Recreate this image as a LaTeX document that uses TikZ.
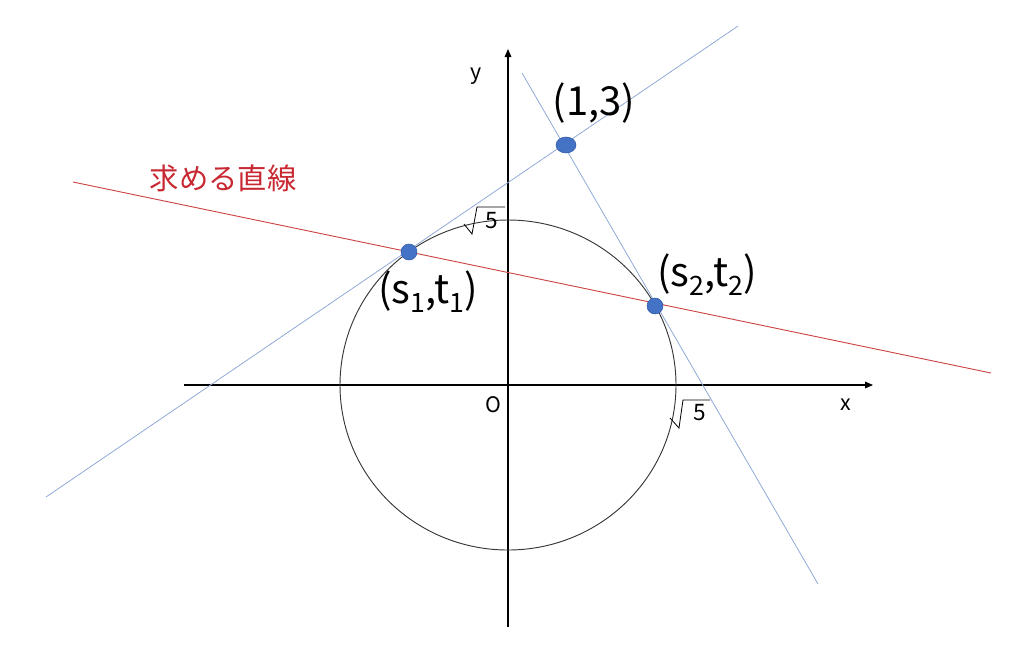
\documentclass[tikz,border=0pt]{standalone}
\usepackage{fontspec}
\setmainfont{Noto Sans CJK JP}
\usetikzlibrary{arrows.meta,shapes.geometric}
\definecolor{tblue}{RGB}{143,170,215}
\definecolor{dotblue}{RGB}{68,114,196}
\definecolor{dotedge}{RGB}{50,90,170}
\definecolor{rline}{RGB}{205,70,70}
\definecolor{rtext}{RGB}{200,40,50}
\definecolor{circgray}{RGB}{55,55,55}
\newcommand{\mysub}[1]{\raisebox{-0.22em}{\fontsize{20pt}{22pt}\selectfont #1}}
\begin{document}
\begin{tikzpicture}[x=0.75pt,y=-0.75pt,
  axisline/.style={line width=0.8pt,black,-{Triangle[length=6pt,width=5pt]}},
  tline/.style={line width=0.6pt,tblue},
  rl/.style={line width=0.7pt,rline},
  circ/.style={line width=0.7pt,circgray},
  bigdot/.style={ellipse,fill=dotblue,draw=dotedge,line width=0.4pt,minimum width=15pt,minimum height=12pt,inner sep=0pt},
  dot/.style={circle,fill=dotblue,draw=dotedge,line width=0.4pt,minimum size=12pt,inner sep=0pt},
  ptlabel/.style={inner sep=0pt,font=\fontsize{30pt}{34pt}\selectfont},
  axlabel/.style={inner sep=0pt,font=\fontsize{16pt}{18pt}\selectfont},
  rootlabel/.style={inner sep=0pt,font=\fontsize{17pt}{19pt}\selectfont},
  rootsign/.style={line width=0.6pt,black,line join=miter},
  jlabel/.style={inner sep=0pt,text=rtext,font=\fontsize{22pt}{25pt}\selectfont}]
\path[use as bounding box] (0,0) rectangle (1024,658);
% coordinates
\coordinate (O) at (508,385);
\coordinate (xl) at (184,385);
\coordinate (xr) at (873,385);
\coordinate (yb) at (508,627);
\coordinate (yt) at (508,49);
\coordinate (L1a) at (46,497);
\coordinate (L1b) at (738,26);
\coordinate (L2a) at (522,73);
\coordinate (L2b) at (818,584);
\coordinate (Ra) at (73,182);
\coordinate (Rb) at (991,373);
% axes
\draw[axisline] (xl) -- (xr);
\draw[axisline] (yb) -- (yt);
% circle
\draw[circ] (O) ellipse [x radius=126pt, y radius=123.75pt];
% lines
\draw[tline] (L1a) -- (L1b);
\draw[tline] (L2a) -- (L2b);
\draw[rl] (Ra) -- (Rb);
% points
\node[bigdot] (P) at (566,145) {};
\node[dot] (A) at (409,252) {};
\node[dot] (B) at (655,306) {};
% labels
\node[ptlabel] (Plab) at (594,103) {(1,3)};
\node[ptlabel] (Alab) at (428,292) {(s\mysub{1},t\mysub{1})};
\node[ptlabel] (Blab) at (707,275) {(s\mysub{2},t\mysub{2})};
\node[jlabel] (J) at (223,178) {求める直線};
\node[axlabel] (xlab) at (846,405) {x};
\node[axlabel] (ylab) at (476,76) {y};
\node[axlabel] (Olab) at (493,405) {O};
% root 5 labels
\draw[rootsign] (464,224) -- (472,234) -- (477,207) -- (505,207);
\node[rootlabel] (r1) at (492,221) {5};
\draw[rootsign] (670,418) -- (679,428) -- (683,400) -- (710,400);
\node[rootlabel] (r2) at (700,413) {5};
\end{tikzpicture}
\end{document}
